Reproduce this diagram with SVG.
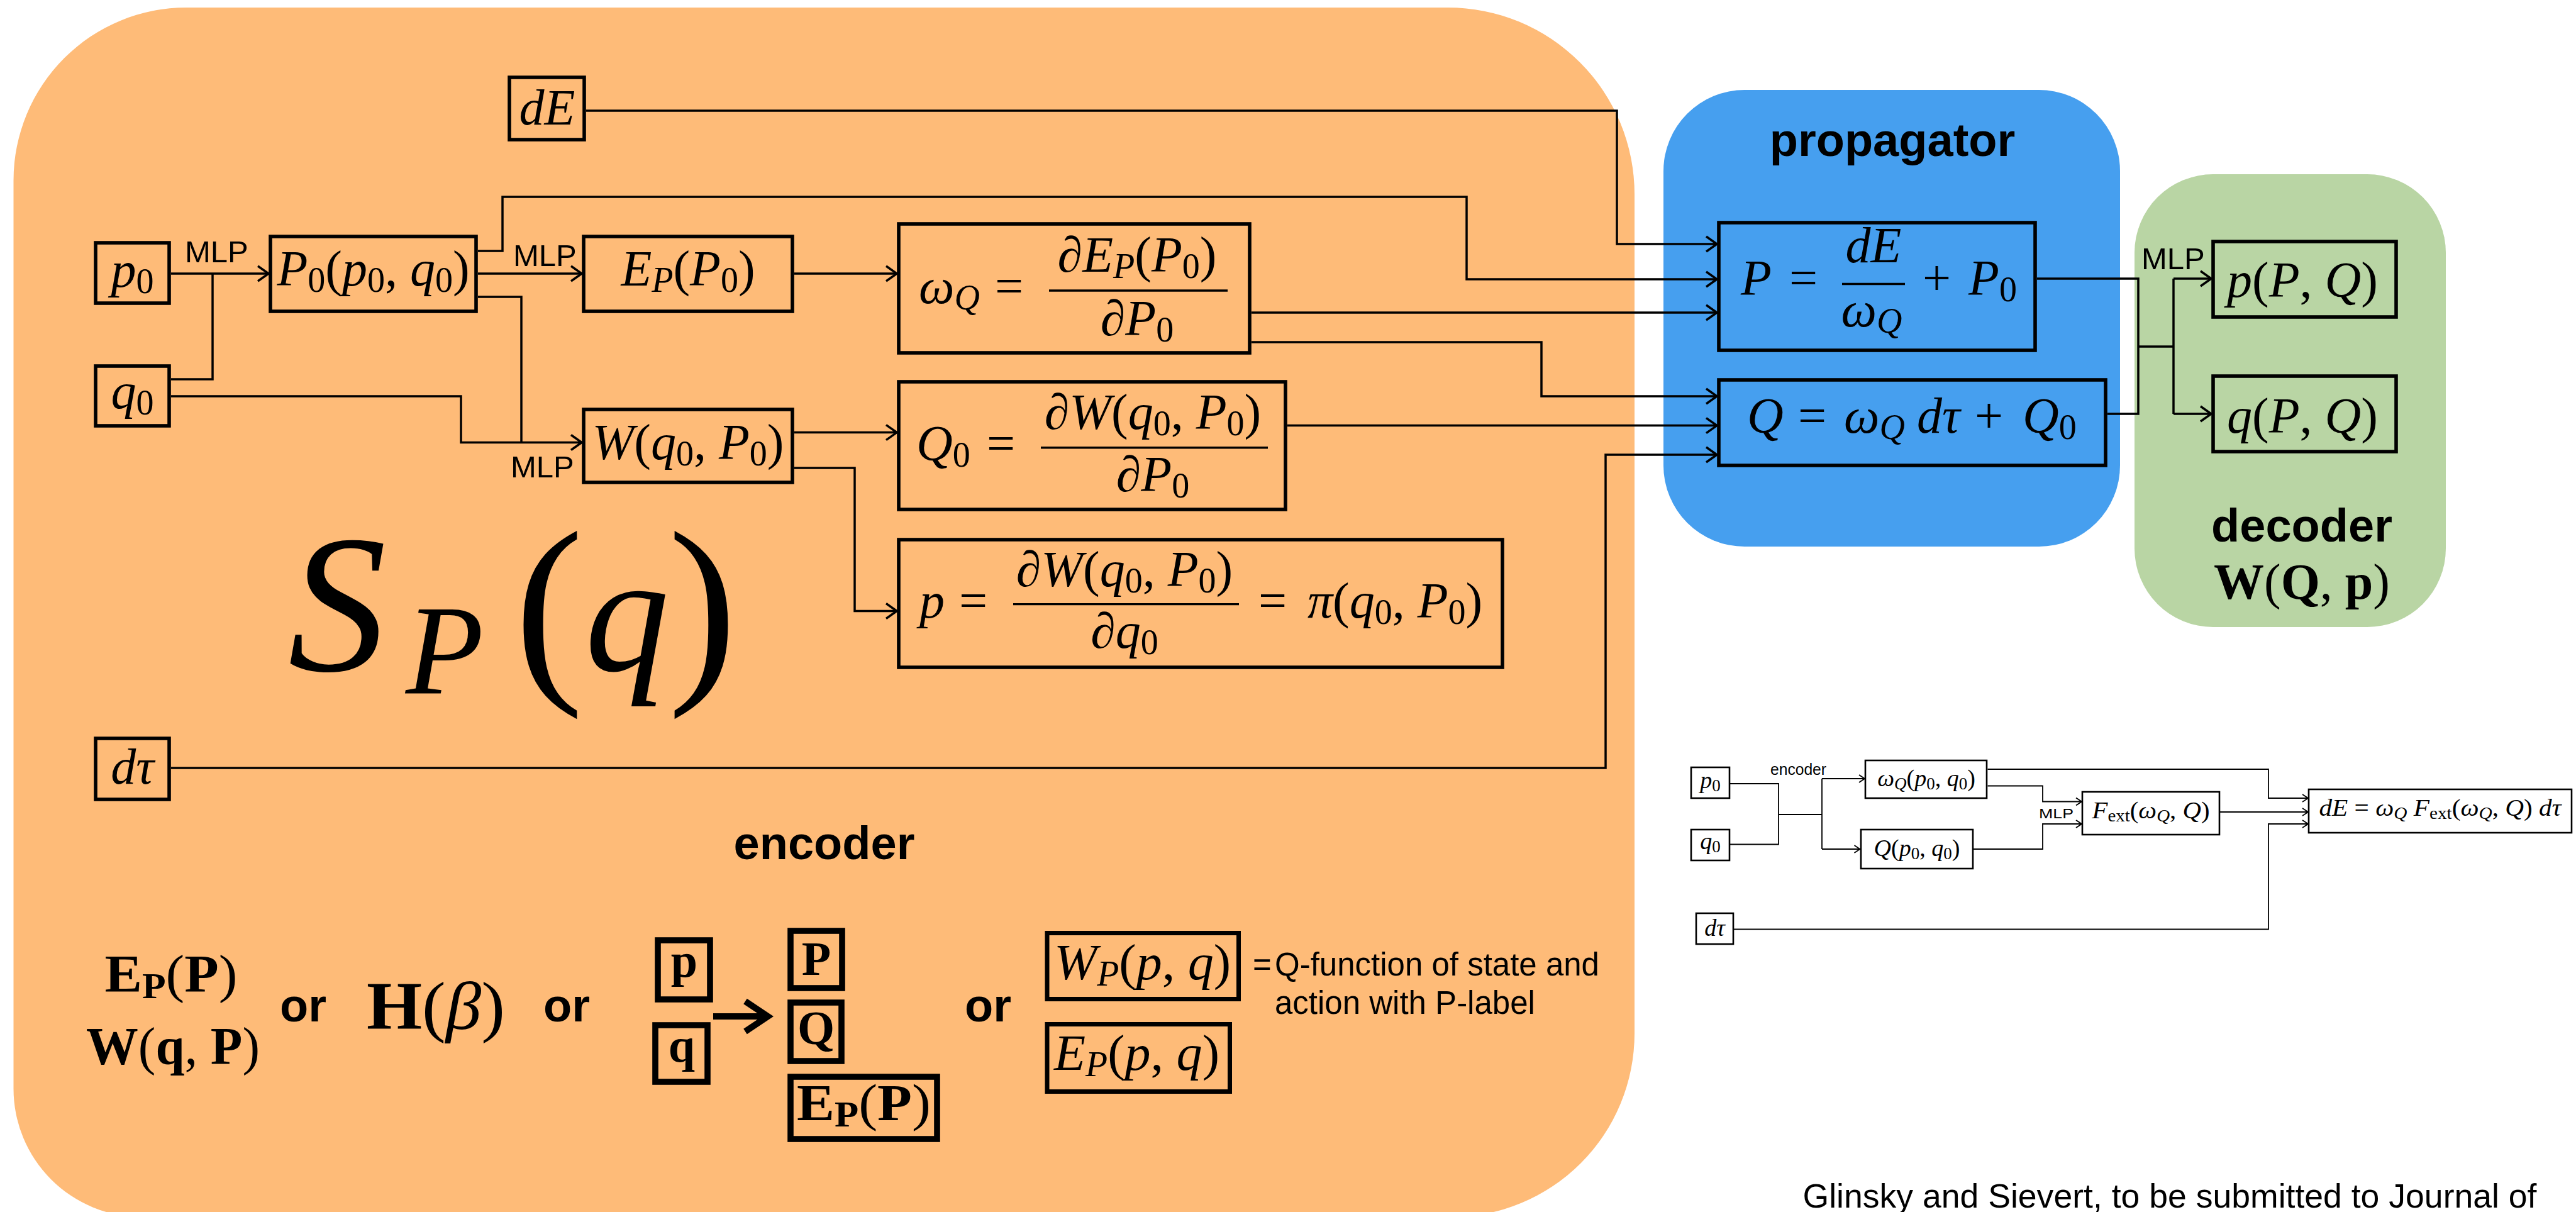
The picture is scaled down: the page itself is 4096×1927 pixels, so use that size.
<svg xmlns="http://www.w3.org/2000/svg" width="4096" height="1927" viewBox="0 0 4096 1927">
<defs>
<style>
.bx{fill:none;stroke:#000;stroke-width:5.6}
.bk{fill:none;stroke:#000;stroke-width:9.6}
.bm{fill:none;stroke:#000;stroke-width:7}
.bs{fill:none;stroke:#000;stroke-width:2.6}
.ln{fill:none;stroke:#000;stroke-width:3.5}
.la{fill:none;stroke:#000;stroke-width:3.5;marker-end:url(#ah)}
.ls{fill:none;stroke:#000;stroke-width:1.8}
.lsa{fill:none;stroke:#000;stroke-width:1.8;marker-end:url(#ahs)}
.fr{stroke:#000;stroke-width:3.4}
.m{font-family:"Liberation Serif","Times New Roman",serif;font-size:80px;fill:#000}
.i{font-style:italic}
.s{font-size:56px}
.b{font-weight:bold}
.t{font-family:"Liberation Serif","Times New Roman",serif;font-size:38px;fill:#000}
.ts{font-size:27px}
.hb{font-family:"Liberation Sans",Arial,sans-serif;font-weight:bold;font-size:74px;fill:#000}
.mlp{font-family:"Liberation Sans",Arial,sans-serif;font-size:49px;fill:#000}
.sn{font-family:"Liberation Sans",Arial,sans-serif;fill:#000}
</style>
<marker id="ah" viewBox="-20 -14 22 28" refX="0" refY="0" markerWidth="22" markerHeight="28" markerUnits="userSpaceOnUse" orient="auto"><path d="M-17,-12 L0,0 L-17,12" fill="none" stroke="#000" stroke-width="3.5"/></marker>
<marker id="ahs" viewBox="-11 -8 12 16" refX="0" refY="0" markerWidth="12" markerHeight="16" markerUnits="userSpaceOnUse" orient="auto"><path d="M-9,-6 L0,0 L-9,6" fill="none" stroke="#000" stroke-width="1.8"/></marker>
</defs>
<rect x="0" y="0" width="4096" height="1927" fill="#fff"/>

<g id="encoder-panel"><path d="M21.5,287 A275,275 0 0 1 296.5,12 H2302 A297,297 0 0 1 2599,309 V1643 A292,292 0 0 1 2307,1935 H225.5 A204,204 0 0 1 21.5,1731 Z" fill="#FEBB78"/></g>
<g id="propagator-panel"><rect x="2645" y="143" width="726" height="726" rx="129" fill="#469FEF"/></g>
<g id="decoder-panel"><rect x="3394" y="277" width="495" height="720" rx="125" fill="#B9D5A4"/></g>

<g id="labels">
<text class="hb" x="3009" y="248" text-anchor="middle">propagator</text>
<text class="hb" x="3660" y="861" text-anchor="middle">decoder</text>
<text class="m" x="3660" y="952" text-anchor="middle" textLength="280" lengthAdjust="spacingAndGlyphs"><tspan class="b">W</tspan>(<tspan class="b">Q</tspan>, <tspan class="b">p</tspan>)</text>
<text class="hb" x="1310.5" y="1366" text-anchor="middle">encoder</text>
<text class="m" y="1066"><tspan class="i" x="458" font-size="313">S</tspan><tspan class="i" x="645" dy="36" font-size="203">P</tspan><tspan x="818" dy="-29" font-size="330">(</tspan><tspan class="i" x="930" dy="-7" font-size="268">q</tspan><tspan x="1062" dy="7" font-size="330">)</tspan></text>
<text class="mlp" x="294" y="417">MLP</text>
<text class="mlp" x="816" y="423">MLP</text>
<text class="mlp" x="812" y="759">MLP</text>
<text class="mlp" x="3405" y="428">MLP</text>
</g>

<g id="connectors">
<path class="la" d="M932,176 H2571 V388 H2730"/>
<path class="la" d="M760,399 H799 V313 H2332 V444 H2730"/>
<path class="la" d="M272,435 H427"/>
<path class="ln" d="M338,435 V603 H272"/>
<path class="la" d="M760,435 H925"/>
<path class="ln" d="M760,472 H829 V703.5"/>
<path class="la" d="M272,630 H733 V703.5 H925"/>
<path class="la" d="M1263,435 H1426"/>
<path class="la" d="M1990,497 H2730"/>
<path class="la" d="M1990,544 H2451 V630 H2730"/>
<path class="la" d="M1263,687.6 H1426"/>
<path class="la" d="M2047,676.6 H2730"/>
<path class="la" d="M1263,744 H1359 V971.5 H1426"/>
<path class="la" d="M272,1221 H2553 V723 H2730"/>
<path class="ln" d="M3239,443 H3400 V658 H3351"/>
<path class="ln" d="M3400,551 H3456"/>
<path class="ln" d="M3456,443 V658"/>
<path class="la" d="M3456,443 H3516"/>
<path class="la" d="M3456,658 H3516"/>
</g>

<g id="node-dE"><rect class="bx" x="810" y="123" width="119" height="99"/><text class="m i" x="870" y="198" text-anchor="middle">dE</text></g>
<g id="node-p0"><rect class="bx" x="152" y="386" width="117" height="96"/><text class="m" x="210.5" y="456" text-anchor="middle"><tspan class="i">p</tspan><tspan class="s" dy="10">0</tspan></text></g>
<g id="node-q0"><rect class="bx" x="152" y="582" width="117" height="95"/><text class="m" x="210.5" y="649" text-anchor="middle"><tspan class="i">q</tspan><tspan class="s" dy="10">0</tspan></text></g>
<g id="node-dtau"><rect class="bx" x="152" y="1174" width="117" height="97"/><text class="m i" x="210.5" y="1246" text-anchor="middle">dτ</text></g>
<g id="node-P0"><rect class="bx" x="430" y="376" width="327" height="119"/><text class="m" x="593.5" y="454" text-anchor="middle"><tspan class="i">P</tspan><tspan class="s" dy="10">0</tspan><tspan dy="-10">(</tspan><tspan class="i">p</tspan><tspan class="s" dy="10">0</tspan><tspan dy="-10">, </tspan><tspan class="i">q</tspan><tspan class="s" dy="10">0</tspan><tspan dy="-10">)</tspan></text></g>
<g id="node-EP"><rect class="bx" x="928" y="376" width="332" height="119"/><text class="m" x="1094" y="454" text-anchor="middle"><tspan class="i">E</tspan><tspan class="s i" dy="10">P</tspan><tspan dy="-10">(</tspan><tspan class="i">P</tspan><tspan class="s" dy="10">0</tspan><tspan dy="-10">)</tspan></text></g>
<g id="node-W"><rect class="bx" x="928" y="651" width="332" height="116"/><text class="m" x="1094" y="730" text-anchor="middle"><tspan class="i">W</tspan>(<tspan class="i">q</tspan><tspan class="s" dy="10">0</tspan><tspan dy="-10">, </tspan><tspan class="i">P</tspan><tspan class="s" dy="10">0</tspan><tspan dy="-10">)</tspan></text></g>
<g id="node-omegaQ"><rect class="bx" x="1429" y="356" width="558" height="205"/>
<text class="m" x="1461" y="482"><tspan class="i">ω</tspan><tspan class="s i" dy="10">Q</tspan><tspan dy="-10" x="1582">=</tspan></text>
<text class="m" x="1808" y="432" text-anchor="middle"><tspan class="i">∂E</tspan><tspan class="s i" dy="10">P</tspan><tspan dy="-10">(</tspan><tspan class="i">P</tspan><tspan class="s" dy="10">0</tspan><tspan dy="-10">)</tspan></text>
<line class="fr" x1="1668" y1="462" x2="1952" y2="462"/>
<text class="m" x="1808" y="533" text-anchor="middle"><tspan class="i">∂P</tspan><tspan class="s" dy="10">0</tspan></text></g>
<g id="node-Q0"><rect class="bx" x="1429" y="607" width="615" height="203"/>
<text class="m" x="1457" y="732"><tspan class="i">Q</tspan><tspan class="s" dy="10">0</tspan><tspan dy="-10" x="1569">=</tspan></text>
<text class="m" x="1833" y="682" text-anchor="middle"><tspan class="i">∂W</tspan>(<tspan class="i">q</tspan><tspan class="s" dy="10">0</tspan><tspan dy="-10">, </tspan><tspan class="i">P</tspan><tspan class="s" dy="10">0</tspan><tspan dy="-10">)</tspan></text>
<line class="fr" x1="1655" y1="711.7" x2="2016" y2="711.7"/>
<text class="m" x="1833" y="780.6" text-anchor="middle"><tspan class="i">∂P</tspan><tspan class="s" dy="10">0</tspan></text></g>
<g id="node-p"><rect class="bx" x="1429" y="858" width="960" height="203"/>
<text class="m" x="1462" y="982"><tspan class="i">p</tspan><tspan x="1525">=</tspan></text>
<text class="m" x="1788" y="932" text-anchor="middle"><tspan class="i">∂W</tspan>(<tspan class="i">q</tspan><tspan class="s" dy="10">0</tspan><tspan dy="-10">, </tspan><tspan class="i">P</tspan><tspan class="s" dy="10">0</tspan><tspan dy="-10">)</tspan></text>
<line class="fr" x1="1611" y1="960.6" x2="1970" y2="960.6"/>
<text class="m" x="1788" y="1030" text-anchor="middle"><tspan class="i">∂q</tspan><tspan class="s" dy="10">0</tspan></text>
<text class="m" x="2001" y="982">=<tspan class="i" x="2079">π</tspan>(<tspan class="i">q</tspan><tspan class="s" dy="10">0</tspan><tspan dy="-10">, </tspan><tspan class="i">P</tspan><tspan class="s" dy="10">0</tspan><tspan dy="-10">)</tspan></text></g>

<g id="node-Pprop"><rect class="bx" x="2733" y="354" width="503" height="203"/>
<text class="m" y="469"><tspan class="i" x="2768">P</tspan><tspan x="2845">=</tspan><tspan x="3057">+</tspan><tspan class="i" x="3130">P</tspan><tspan class="s" dy="10">0</tspan></text>
<text class="m i" x="2979" y="417" text-anchor="middle">dE</text>
<line class="fr" x1="2929" y1="451.5" x2="3029" y2="451.5"/>
<text class="m" x="2976" y="518.6" text-anchor="middle"><tspan class="i">ω</tspan><tspan class="s i" dy="10">Q</tspan></text></g>
<g id="node-Qprop"><rect class="bx" x="2733" y="604" width="615" height="136"/>
<text class="m" y="688"><tspan class="i" x="2778">Q</tspan><tspan x="2859">=</tspan><tspan class="i" x="2932">ω</tspan><tspan class="s i" dy="10">Q</tspan><tspan class="i" dy="-10" x="3048">dτ</tspan><tspan x="3140">+</tspan><tspan class="i" x="3216">Q</tspan><tspan class="s" dy="10">0</tspan></text></g>
<g id="node-pPQ"><rect class="bx" x="3519" y="384" width="291" height="120"/><text class="m" x="3661" y="472" text-anchor="middle"><tspan class="i">p</tspan>(<tspan class="i">P</tspan>, <tspan class="i">Q</tspan>)</text></g>
<g id="node-qPQ"><rect class="bx" x="3519" y="598" width="291" height="120"/><text class="m" x="3661" y="688" text-anchor="middle"><tspan class="i">q</tspan>(<tspan class="i">P</tspan>, <tspan class="i">Q</tspan>)</text></g>

<g id="legend">
<text class="m" x="272" y="1577" text-anchor="middle" style="font-size:84px" textLength="211" lengthAdjust="spacingAndGlyphs"><tspan class="b">E</tspan><tspan class="b" font-size="58" dy="10">P</tspan><tspan dy="-10">(</tspan><tspan class="b">P</tspan>)</text>
<text class="m" x="275" y="1692" text-anchor="middle" style="font-size:84px" textLength="276" lengthAdjust="spacingAndGlyphs"><tspan class="b">W</tspan>(<tspan class="b">q</tspan>, <tspan class="b">P</tspan>)</text>
<text class="hb" x="445" y="1624">or</text>
<text class="m" x="583" y="1636" style="font-size:108px" textLength="220" lengthAdjust="spacingAndGlyphs"><tspan class="b">H</tspan>(<tspan class="i">β</tspan>)</text>
<text class="hb" x="864" y="1624">or</text>
<g id="node-p-small"><rect class="bk" x="1046" y="1495" width="83" height="94"/><text class="m b" x="1088" y="1553" text-anchor="middle" style="font-size:76px">p</text></g>
<g id="node-q-small"><rect class="bk" x="1042" y="1630" width="83" height="90"/><text class="m b" x="1084" y="1688" text-anchor="middle" style="font-size:76px">q</text></g>
<path d="M1134,1616 H1215" fill="none" stroke="#000" stroke-width="10"/>
<path d="M1185,1592 L1221,1616 L1185,1640" fill="none" stroke="#000" stroke-width="10"/>
<g id="node-P-small"><rect class="bk" x="1257" y="1480" width="82" height="91"/><text class="m b" x="1298" y="1550" text-anchor="middle" style="font-size:76px">P</text></g>
<g id="node-Q-small"><rect class="bk" x="1257" y="1594" width="81" height="93"/><text class="m b" x="1297.5" y="1660" text-anchor="middle" style="font-size:76px">Q</text></g>
<g id="node-EPP-small"><rect class="bk" x="1257" y="1712" width="233" height="99"/><text class="m" x="1373.5" y="1781" text-anchor="middle" style="font-size:82px" textLength="213" lengthAdjust="spacingAndGlyphs"><tspan class="b">E</tspan><tspan class="b" font-size="57" dy="10">P</tspan><tspan dy="-10">(</tspan><tspan class="b">P</tspan>)</text></g>
<text class="hb" x="1534" y="1624">or</text>
<g id="node-WP"><rect class="bm" x="1665" y="1483.5" width="304.5" height="105"/><text class="m" x="1816.5" y="1557" text-anchor="middle" textLength="281" lengthAdjust="spacingAndGlyphs"><tspan class="i">W</tspan><tspan class="s i" dy="10">P</tspan><tspan dy="-10">(</tspan><tspan class="i">p</tspan>, <tspan class="i">q</tspan>)</text></g>
<g id="node-EPpq"><rect class="bm" x="1665" y="1628.5" width="290.5" height="107"/><text class="m" x="1807.5" y="1701" text-anchor="middle" textLength="263" lengthAdjust="spacingAndGlyphs"><tspan class="i">E</tspan><tspan class="s i" dy="10">P</tspan><tspan dy="-10">(</tspan><tspan class="i">p</tspan>, <tspan class="i">q</tspan>)</text></g>
<text class="sn" x="1992" y="1551" font-size="51">=</text>
<text class="sn" x="2027" y="1551" font-size="51">Q-function of state and</text>
<text class="sn" x="2027" y="1612" font-size="51">action with P-label</text>
</g>

<g id="inset">
<g id="inset-connectors">
<path class="ls" d="M2751,1246 H2828 V1342.5 H2751"/>
<path class="ls" d="M2828,1295 H2897"/>
<path class="ls" d="M2897,1238 V1350"/>
<path class="lsa" d="M2897,1238 H2965"/>
<path class="lsa" d="M2897,1350 H2957.5"/>
<path class="lsa" d="M3160.5,1223 H3607 V1269 H3670"/>
<path class="lsa" d="M3160.5,1249.5 H3248 V1274.5 H3310"/>
<path class="lsa" d="M3138,1350 H3248 V1310 H3310"/>
<path class="lsa" d="M3530,1291 H3670"/>
<path class="lsa" d="M2757,1477.5 H3607 V1310 H3670"/>
</g>
<text class="sn" x="2815" y="1232" font-size="25" textLength="89" lengthAdjust="spacingAndGlyphs">encoder</text>
<text class="sn" x="3242" y="1301" font-size="22" textLength="55" lengthAdjust="spacingAndGlyphs">MLP</text>
<g id="inset-p0"><rect class="bs" x="2689" y="1220" width="61" height="49"/><text class="t" x="2719.5" y="1253" text-anchor="middle"><tspan class="i">p</tspan><tspan class="ts" dy="5">0</tspan></text></g>
<g id="inset-q0"><rect class="bs" x="2689" y="1319" width="61" height="49"/><text class="t" x="2719.5" y="1350" text-anchor="middle"><tspan class="i">q</tspan><tspan class="ts" dy="5">0</tspan></text></g>
<g id="inset-dtau"><rect class="bs" x="2697" y="1452" width="59" height="49"/><text class="t i" x="2726.5" y="1488" text-anchor="middle">dτ</text></g>
<g id="inset-omegaQ"><rect class="bs" x="2966" y="1209" width="193" height="60"/><text class="t" x="3063" y="1250" text-anchor="middle"><tspan class="i">ω</tspan><tspan class="ts i" dy="5">Q</tspan><tspan dy="-5">(</tspan><tspan class="i">p</tspan><tspan class="ts" dy="5">0</tspan><tspan dy="-5">, </tspan><tspan class="i">q</tspan><tspan class="ts" dy="5">0</tspan><tspan dy="-5">)</tspan></text></g>
<g id="inset-Q"><rect class="bs" x="2959" y="1319" width="178" height="62"/><text class="t" x="3048" y="1361" text-anchor="middle"><tspan class="i">Q</tspan>(<tspan class="i">p</tspan><tspan class="ts" dy="5">0</tspan><tspan dy="-5">, </tspan><tspan class="i">q</tspan><tspan class="ts" dy="5">0</tspan><tspan dy="-5">)</tspan></text></g>
<g id="inset-Fext"><rect class="bs" x="3311" y="1259" width="218" height="68"/><text class="t" x="3420" y="1301" text-anchor="middle" textLength="187" lengthAdjust="spacingAndGlyphs"><tspan class="i">F</tspan><tspan class="ts" dy="5">ext</tspan><tspan dy="-5">(</tspan><tspan class="i">ω</tspan><tspan class="ts i" dy="5">Q</tspan><tspan dy="-5">, </tspan><tspan class="i">Q</tspan>)</text></g>
<g id="inset-dE"><rect class="bs" x="3671" y="1255" width="418" height="69"/><text class="t" x="3880" y="1297" text-anchor="middle" textLength="385" lengthAdjust="spacingAndGlyphs"><tspan class="i">dE</tspan> = <tspan class="i">ω</tspan><tspan class="ts i" dy="5">Q</tspan><tspan dy="-5"> </tspan><tspan class="i">F</tspan><tspan class="ts" dy="5">ext</tspan><tspan dy="-5">(</tspan><tspan class="i">ω</tspan><tspan class="ts i" dy="5">Q</tspan><tspan dy="-5">, </tspan><tspan class="i">Q</tspan>) <tspan class="i">dτ</tspan></text></g>
</g>

<text class="sn" x="2866.5" y="1919.5" font-size="53.5" textLength="1167" lengthAdjust="spacingAndGlyphs">Glinsky and Sievert, to be submitted to Journal of</text>
</svg>
